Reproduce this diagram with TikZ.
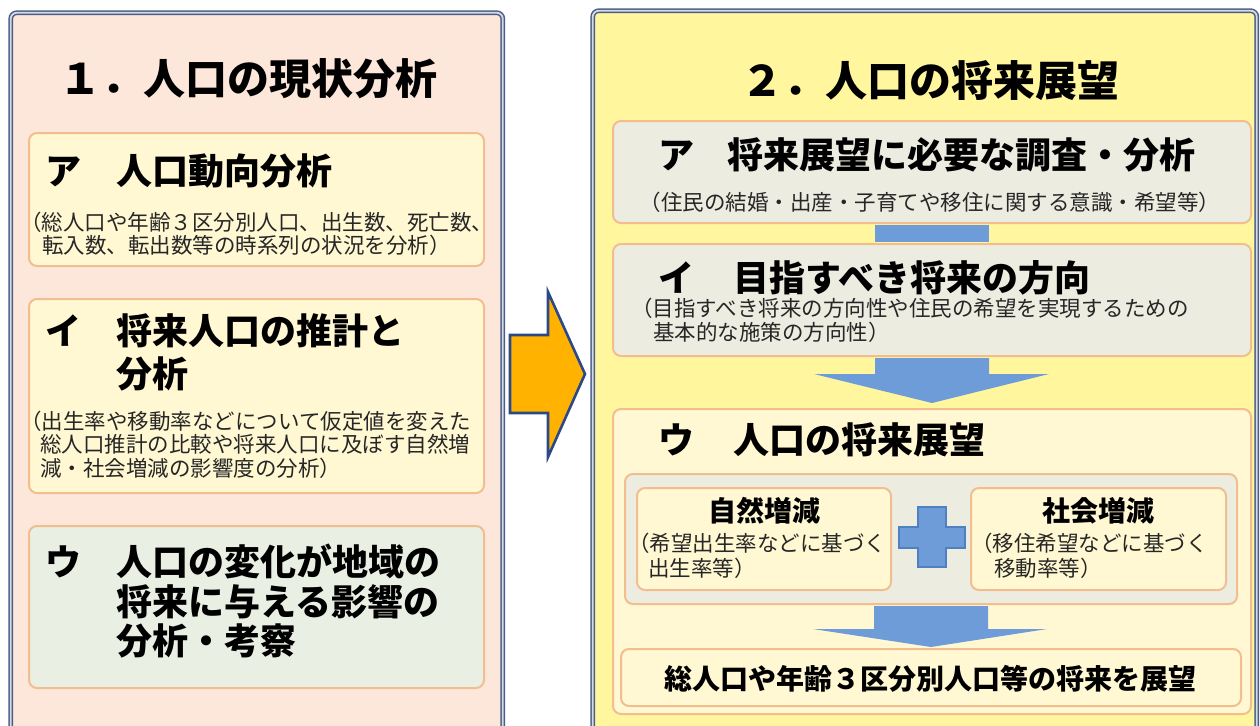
\documentclass[tikz,border=0pt]{standalone}
\usepackage{fontspec}
\setmainfont{Noto Sans CJK JP}
\usetikzlibrary{calc}
\definecolor{panelc}{HTML}{4A5E85}
\definecolor{panelgap}{HTML}{D3DAE7}
\definecolor{leftbg}{HTML}{FDE7DB}
\definecolor{rightbg}{HTML}{FFF69E}
\definecolor{boxline}{HTML}{F2BE90}
\definecolor{ybox}{HTML}{FFF8D3}
\definecolor{gbox}{HTML}{ECECE0}
\definecolor{gbox2}{HTML}{E9EFE2}
\definecolor{bluef}{HTML}{6D9CD8}
\definecolor{blued}{HTML}{4F80C2}
\definecolor{orangef}{HTML}{FFB300}
\definecolor{arrowline}{HTML}{2C4886}
\tikzset{
  panel/.style={draw=panelc, line width=1.5pt, double=panelgap, double distance=1.8pt,
    rounded corners=6pt, anchor=north west, inner sep=0pt},
  box/.style={draw=boxline, line width=2pt, rounded corners=8pt, anchor=north west, inner sep=0pt},
  lbl/.style={anchor=base west, inner sep=0pt, text=black},
  clbl/.style={anchor=base, inner sep=0pt, text=black},
  bigtitle/.style={font=\fontsize{42}{46}\selectfont\bfseries},
  headtxt/.style={font=\fontsize{36}{40}\selectfont\bfseries},
  subtxt/.style={font=\fontsize{21.5}{24}\selectfont, text=black!85},
  midtxt/.style={font=\fontsize{28}{32}\selectfont\bfseries},
  bluearrow/.style={fill=bluef, draw=none}
}
\begin{document}
\begin{tikzpicture}[x=1pt,y=-1pt]
\useasboundingbox (0,0) rectangle (1260,725);
\fill[white] (0,0) rectangle (1260,725);
\clip (0,0) rectangle (1260,725);

% panels
\node[panel, fill=leftbg, minimum width=492, minimum height=760] (L) at (10,12) {};
\node[panel, fill=rightbg, minimum width=664, minimum height=760] (R) at (592,10) {};

% big orange arrow
\draw[fill=orangef, draw=arrowline, line width=2.6pt, line join=miter]
  (510,335) -- (548,335) -- (548,292) -- (585,374) -- (548,457) -- (548,413) -- (510,413) -- cycle;

% titles
\node[clbl, bigtitle] (LT) at (248,94) {１．人口の現状分析};
\node[clbl, bigtitle] (RT) at (930,96) {２．人口の将来展望};

% left boxes
\node[box, fill=ybox, minimum width=455, minimum height=133] (LA) at (28,132) {};
\node[box, fill=ybox, minimum width=455, minimum height=194] (LB) at (28,298) {};
\node[box, fill=gbox2, minimum width=455, minimum height=162] (LC) at (28,525) {};

\node[lbl, headtxt] (LAk) at (45,184) {ア};
\node[lbl, headtxt] (LAt) at (116,184) {人口動向分析};
\node[lbl, subtxt] (LAs1) at (20,230) {（総人口や年齢３区分別人口、出生数、死亡数、};
\node[lbl, subtxt] (LAs2) at (42,253) {転入数、転出数等の時系列の状況を分析）};

\node[lbl, headtxt] (LBk) at (45,344) {イ};
\node[lbl, headtxt] (LBt1) at (116,344) {将来人口の推計と};
\node[lbl, headtxt] (LBt2) at (116,387) {分析};
\node[lbl, subtxt] (LBs1) at (20,429) {（出生率や移動率などについて仮定値を変えた};
\node[lbl, subtxt] (LBs2) at (40,452) {総人口推計の比較や将来人口に及ぼす自然増};
\node[lbl, subtxt] (LBs3) at (40,476) {減・社会増減の影響度の分析）};

\node[lbl, headtxt] (LCk) at (45,575) {ウ};
\node[lbl, headtxt] (LCt1) at (116,575) {人口の変化が地域の};
\node[lbl, headtxt] (LCt2) at (116,615) {将来に与える影響の};
\node[lbl, headtxt] (LCt3) at (116,654) {分析・考察};

% right boxes
\node[box, fill=gbox, minimum width=638, minimum height=102] (RA) at (612,120) {};
\node[box, fill=gbox, minimum width=638, minimum height=112] (RB) at (612,243) {};
\node[box, fill=ybox, minimum width=638, minimum height=305] (RC) at (612,408) {};
\node[box, fill=gbox, minimum width=612, minimum height=130] (RCin) at (624,473) {};
\node[box, fill=ybox, minimum width=254, minimum height=102] (RC1) at (636,487) {};
\node[box, fill=ybox, minimum width=255, minimum height=102] (RC2) at (970,487) {};
\node[box, fill=ybox, minimum width=620, minimum height=57] (RD) at (620,648) {};

% blue connectors
\fill[bluearrow] ($(RA.south)+(-57,1)$) rectangle ($(RB.north)+(57,-1)$);
\fill[bluearrow] ($(RB.south)+(-57,1)$) -- ($(RB.south)+(57,1)$) -- ($(RB.south)+(57,17)$)
  -- ($(RB.south)+(117,17)$) -- ($(RC.north)+(0,-5)$) -- ($(RB.south)+(-118,17)$)
  -- ($(RB.south)+(-57,17)$) -- cycle;
\fill[bluearrow] ($(RCin.south)+(-57,1)$) -- ($(RCin.south)+(57,1)$) -- ($(RCin.south)+(57,24)$)
  -- ($(RCin.south)+(116,24)$) -- ($(RD.north)+(0,-1)$) -- ($(RCin.south)+(-118,24)$)
  -- ($(RCin.south)+(-57,24)$) -- cycle;

% plus sign
\coordinate (P) at (932,537);
\draw[fill=bluef, draw=blued, line width=1.5pt]
  ($(P)+(-14,-30)$) -- ($(P)+(14,-30)$) -- ($(P)+(14,-10)$) -- ($(P)+(33,-10)$)
  -- ($(P)+(33,11)$) -- ($(P)+(14,11)$) -- ($(P)+(14,30)$) -- ($(P)+(-14,30)$)
  -- ($(P)+(-14,11)$) -- ($(P)+(-33,11)$) -- ($(P)+(-33,-10)$) -- ($(P)+(-14,-10)$) -- cycle;

% right texts
\node[lbl, headtxt] (RAk) at (658,168) {ア};
\node[lbl, headtxt] (RAt) at (727,168) {将来展望に必要な調査・分析};
\node[clbl, subtxt] (RAs) at (930,210) {（住民の結婚・出産・子育てや移住に関する意識・希望等）};

\node[lbl, headtxt] (RBk) at (658,291) {イ};
\node[lbl, headtxt] (RBt) at (733,291) {目指すべき将来の方向};
\node[lbl, subtxt] (RBs1) at (631,316) {（目指すべき将来の方向性や住民の希望を実現するための};
\node[lbl, subtxt] (RBs2) at (653,340) {基本的な施策の方向性）};

\node[lbl, headtxt] (RCk) at (658,453) {ウ};
\node[lbl, headtxt] (RCt) at (733,453) {人口の将来展望};

\node[clbl, midtxt] (RC1t) at (RC1.north |- 0,521) {自然増減};
\node[lbl, subtxt] (RC1s1) at (628,551) {（希望出生率などに基づく};
\node[lbl, subtxt] (RC1s2) at (648,576) {出生率等）};
\node[clbl, midtxt] (RC2t) at (RC2.north |- 0,521) {社会増減};
\node[lbl, subtxt] (RC2s1) at (971,551) {（移住希望などに基づく};
\node[lbl, subtxt] (RC2s2) at (994,576) {移動率等）};

\node[clbl, midtxt] (RDt) at (930,689) {総人口や年齢３区分別人口等の将来を展望};
\end{tikzpicture}
\end{document}
